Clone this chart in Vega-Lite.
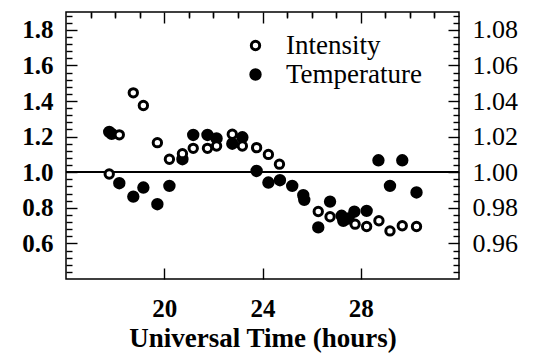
{
  "$schema": "https://vega.github.io/schema/vega-lite/v6.json",
  "width": 393,
  "height": 267,
  "autosize": "none",
  "padding": {"left": 66, "top": 12, "right": 75, "bottom": 82},
  "background": "white",
  "config": {
    "view": {"stroke": "black", "strokeWidth": 1.5},
    "font": "Liberation Serif",
    "axis": {
      "domain": false, "ticks": false, "zindex": 1,
      "grid": true, "gridColor": "#000000", "gridOpacity": 1, "gridWidth": 1.4,
      "labelColor": "black", "labelFont": "Liberation Serif", "labelFontSize": 25, "labelFontWeight": "bold",
      "titleColor": "black", "titleFont": "Liberation Serif", "titleFontSize": 27, "titleFontWeight": "bold"
    }
  },
  "data": {"values": [
    {"t": 17.76, "v": 1.226, "series": "Temperature"},
    {"t": 17.86, "v": 1.215, "series": "Temperature"},
    {"t": 18.17, "v": 0.938, "series": "Temperature"},
    {"t": 18.74, "v": 0.863, "series": "Temperature"},
    {"t": 19.15, "v": 0.914, "series": "Temperature"},
    {"t": 19.72, "v": 0.82, "series": "Temperature"},
    {"t": 20.21, "v": 0.923, "series": "Temperature"},
    {"t": 20.74, "v": 1.073, "series": "Temperature"},
    {"t": 21.18, "v": 1.209, "series": "Temperature"},
    {"t": 21.76, "v": 1.209, "series": "Temperature"},
    {"t": 22.13, "v": 1.19, "series": "Temperature"},
    {"t": 22.77, "v": 1.16, "series": "Temperature"},
    {"t": 23.18, "v": 1.196, "series": "Temperature"},
    {"t": 23.76, "v": 1.007, "series": "Temperature"},
    {"t": 24.24, "v": 0.942, "series": "Temperature"},
    {"t": 24.71, "v": 0.955, "series": "Temperature"},
    {"t": 25.21, "v": 0.923, "series": "Temperature"},
    {"t": 25.66, "v": 0.871, "series": "Temperature"},
    {"t": 25.7, "v": 0.845, "series": "Temperature"},
    {"t": 26.27, "v": 0.69, "series": "Temperature"},
    {"t": 26.75, "v": 0.835, "series": "Temperature"},
    {"t": 27.22, "v": 0.755, "series": "Temperature"},
    {"t": 27.29, "v": 0.727, "series": "Temperature"},
    {"t": 27.5, "v": 0.74, "series": "Temperature"},
    {"t": 27.74, "v": 0.778, "series": "Temperature"},
    {"t": 28.24, "v": 0.783, "series": "Temperature"},
    {"t": 28.72, "v": 1.067, "series": "Temperature"},
    {"t": 29.19, "v": 0.923, "series": "Temperature"},
    {"t": 29.69, "v": 1.067, "series": "Temperature"},
    {"t": 30.27, "v": 0.886, "series": "Temperature"},
    {"t": 17.76, "v": 0.99, "series": "Intensity"},
    {"t": 18.17, "v": 1.21, "series": "Intensity"},
    {"t": 18.74, "v": 1.446, "series": "Intensity"},
    {"t": 19.15, "v": 1.375, "series": "Intensity"},
    {"t": 19.72, "v": 1.166, "series": "Intensity"},
    {"t": 20.21, "v": 1.073, "series": "Intensity"},
    {"t": 20.74, "v": 1.104, "series": "Intensity"},
    {"t": 21.18, "v": 1.134, "series": "Intensity"},
    {"t": 21.76, "v": 1.134, "series": "Intensity"},
    {"t": 22.13, "v": 1.147, "series": "Intensity"},
    {"t": 22.77, "v": 1.213, "series": "Intensity"},
    {"t": 23.18, "v": 1.147, "series": "Intensity"},
    {"t": 23.76, "v": 1.138, "series": "Intensity"},
    {"t": 24.24, "v": 1.1, "series": "Intensity"},
    {"t": 24.69, "v": 1.045, "series": "Intensity"},
    {"t": 26.27, "v": 0.779, "series": "Intensity"},
    {"t": 26.75, "v": 0.75, "series": "Intensity"},
    {"t": 27.77, "v": 0.708, "series": "Intensity"},
    {"t": 28.24, "v": 0.695, "series": "Intensity"},
    {"t": 28.74, "v": 0.727, "series": "Intensity"},
    {"t": 29.19, "v": 0.67, "series": "Intensity"},
    {"t": 29.69, "v": 0.699, "series": "Intensity"},
    {"t": 30.27, "v": 0.695, "series": "Intensity"}
  ]},
  "layer": [
    {
      "mark": {"type": "rule", "color": "black", "strokeWidth": 1.5},
      "encoding": {
        "y": {"datum": 1, "type": "quantitative", "scale": {"domain": [0.4, 1.9], "nice": false, "zero": false},
              "axis": {"orient": "left", "values": [0.44, 0.48, 0.52, 0.56, 0.64, 0.68, 0.72, 0.76, 0.84, 0.88, 0.92, 0.96, 1.04, 1.08, 1.12, 1.16, 1.24, 1.28, 1.32, 1.36, 1.44, 1.48, 1.52, 1.56, 1.64, 1.68, 1.72, 1.76, 1.84, 1.88], "labels": false, "grid": true, "gridDash": [6, 1000], "title": null}}
      }
    },
    {
      "mark": {"type": "point", "shape": "circle", "filled": true, "opacity": 1, "strokeWidth": 3, "clip": true},
      "encoding": {
        "x": {"field": "t", "type": "quantitative", "scale": {"domain": [16, 32], "nice": false, "zero": false},
              "axis": {"orient": "bottom", "values": [20, 24, 28], "grid": true, "gridDash": [11, 1000], "labelPadding": 17, "title": "Universal Time (hours)", "titlePadding": 4}},
        "y": {"field": "v", "type": "quantitative", "scale": {"domain": [0.4, 1.9], "nice": false, "zero": false},
              "axis": {"orient": "left", "values": [0.6, 0.8, 1.0, 1.2, 1.4, 1.6, 1.8], "format": ".1f", "grid": true, "gridDash": [11, 1000], "labelPadding": 13, "title": null}},
        "fill": {"field": "series", "type": "nominal", "scale": {"domain": ["Intensity", "Temperature"], "range": ["white", "black"]},
                 "legend": {"orient": "none", "legendX": 176, "legendY": 20, "title": null, "padding": 0, "labelFont": "Liberation Serif", "labelFontSize": 27, "labelFontWeight": "normal", "labelColor": "black", "symbolStrokeWidth": 3, "symbolType": "circle", "symbolOpacity": 1, "rowPadding": 1, "labelOffset": 17}},
        "stroke": {"field": "series", "type": "nominal", "scale": {"domain": ["Intensity", "Temperature"], "range": ["black", "black"]},
                 "legend": {"orient": "none", "legendX": 176, "legendY": 20, "title": null, "padding": 0, "labelFont": "Liberation Serif", "labelFontSize": 27, "labelFontWeight": "normal", "labelColor": "black", "symbolStrokeWidth": 3, "symbolType": "circle", "symbolOpacity": 1, "rowPadding": 1, "labelOffset": 17}},
        "size": {"field": "series", "type": "nominal", "scale": {"domain": ["Intensity", "Temperature"], "range": [70, 88]},
                 "legend": {"orient": "none", "legendX": 176, "legendY": 20, "title": null, "padding": 0, "labelFont": "Liberation Serif", "labelFontSize": 27, "labelFontWeight": "normal", "labelColor": "black", "symbolStrokeWidth": 3, "symbolType": "circle", "symbolOpacity": 1, "rowPadding": 1, "labelOffset": 17}}
      }
    },
    {
      "mark": {"type": "point", "opacity": 0},
      "encoding": {
        "x": {"datum": 24, "type": "quantitative",
              "axis": {"orient": "bottom", "values": [17, 18, 19, 21, 22, 23, 25, 26, 27, 29, 30, 31], "labels": false, "grid": true, "gridDash": [5, 1000], "title": null}},
        "y": {"datum": 1, "type": "quantitative", "scale": {"domain": [0.94, 1.09], "nice": false, "zero": false},
              "axis": {"orient": "right", "values": [0.96, 0.98, 1.0, 1.02, 1.04, 1.06, 1.08], "format": ".2f", "grid": true, "gridDash": [11, 1000], "labelPadding": 13, "labelFontSize": 26, "labelFontWeight": "normal", "title": null}}
      }
    },
    {
      "mark": {"type": "point", "opacity": 0},
      "encoding": {
        "x": {"datum": 24, "type": "quantitative",
              "axis": {"orient": "top", "values": [20, 24, 28], "labels": false, "grid": true, "gridDash": [11, 1000], "title": null}},
        "y": {"datum": 1, "type": "quantitative", "scale": {"domain": [0.94, 1.09], "nice": false, "zero": false},
              "axis": {"orient": "right", "values": [0.944, 0.948, 0.952, 0.956, 0.964, 0.968, 0.972, 0.976, 0.984, 0.988, 0.992, 0.996, 1.004, 1.008, 1.012, 1.016, 1.024, 1.028, 1.032, 1.036, 1.044, 1.048, 1.052, 1.056, 1.064, 1.068, 1.072, 1.076, 1.084, 1.088], "labels": false, "grid": true, "gridDash": [6, 1000], "title": null}}
      }
    },
    {
      "mark": {"type": "point", "opacity": 0},
      "encoding": {
        "x": {"datum": 24, "type": "quantitative",
              "axis": {"orient": "top", "values": [17, 18, 19, 21, 22, 23, 25, 26, 27, 29, 30, 31], "labels": false, "grid": true, "gridDash": [6, 1000], "title": null}}
      }
    }
  ],
  "resolve": {"scale": {"y": "independent"}, "axis": {"x": "independent", "y": "independent"}}
}
